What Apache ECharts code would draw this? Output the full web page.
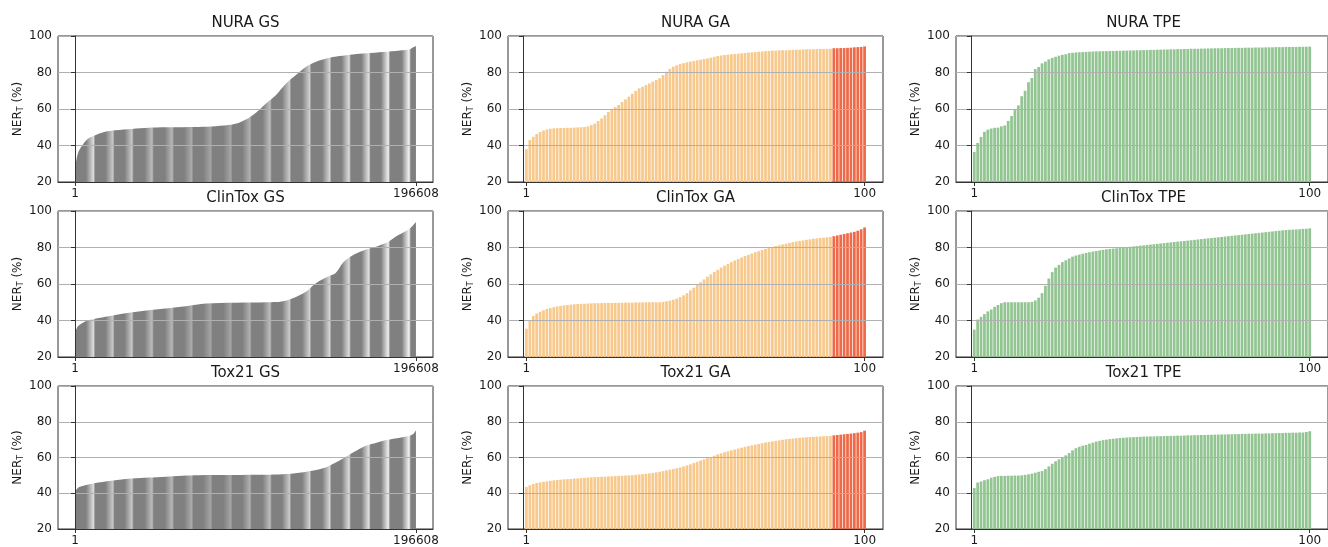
<!DOCTYPE html>
<html><head><meta charset="utf-8">
<script src="https://cdn.jsdelivr.net/npm/echarts@6/dist/echarts.min.js"></script>
<style>html,body{margin:0;padding:0;background:#fff}#c{width:1328px;height:547px}</style>
</head><body><div id="c"></div>
<script>
// ---------------- data ----------------
const datasets = ['NURA', 'ClinTox', 'Tox21'];
const methods = ['GS', 'GA', 'TPE'];
const gsTotal = 196608;   // number of grid-search configurations
const nTrials = 100;      // GA / TPE trials
const topN = 10;          // highlighted best GA trials
const yTicks = [20, 40, 60, 80, 100];

// Grid search: sorted NER_T curve read at sample ranks
const nuraGsIdx = [1, 394, 1928, 4837, 7669, 11601, 17302, 23200, 32834, 42468, 52102, 71370, 81199, 90833, 94569, 98501, 102433, 106169, 110101, 115803, 121701, 127403, 133300, 139002, 144900, 152568, 160236, 168100, 177734, 187368, 193070, 195035, 196608];
const nuraGsVal = [24, 30, 36.5, 41, 43.8, 45.6, 47.5, 48.4, 49.1, 49.7, 50.0, 50.2, 50.6, 51.5, 52.4, 54.2, 56.6, 59.4, 63, 67.6, 74, 78.6, 83.2, 85.9, 87.7, 89, 89.9, 90.5, 91.2, 92, 92.7, 93.8, 94.5];

const clintoxGsIdx = [1, 600, 1800, 5800, 9700, 17500, 29100, 46500, 63900, 75500, 110300, 116100, 121900, 127700, 133500, 137600, 141600, 145700, 150300, 154900, 160700, 168200, 175200, 180500, 185100, 190900, 194300, 196608];
const clintoxGsVal = [33, 35, 37, 39.5, 40.5, 42, 44, 46, 47.8, 49.3, 50.0, 50.1, 51, 53, 56, 59.5, 62, 64, 66, 72, 76, 79, 81, 83, 86, 89, 91.5, 94];

const tox21GsIdx = [1, 1928, 5801, 13527, 23200, 32834, 42468, 52102, 61736, 71370, 90833, 110101, 119735, 129369, 139002, 144900, 150602, 156500, 162202, 168100, 173801, 179700, 187368, 193070, 195035, 196608];
const tox21GsVal = [41.0, 43.2, 44.5, 46.0, 47.3, 48.2, 48.8, 49.3, 49.8, 50.1, 50.2, 50.3, 50.6, 51.5, 53.0, 54.6, 57.3, 60.6, 63.8, 66.7, 68.3, 69.8, 71.1, 72.2, 73.1, 75.3];

// GA trials (sorted ascending)
const nuraGa = [38.0, 43.0, 44.8, 46.3, 47.4, 48.2, 48.8, 49.2, 49.4, 49.5, 49.6, 49.6, 49.7, 49.7, 49.8, 49.9, 50.0, 50.1, 50.5, 51.2,
  52.0, 53.4, 54.8, 56.6, 58.4, 59.8, 61.0, 62.2, 63.8, 65.3, 66.8, 68.4, 69.9, 71.3, 72.2, 73.1, 74.0, 75.0, 75.9, 76.8,
  78.6, 80.4, 82.0, 83.2, 84.0, 84.6, 85.1, 85.6, 86.0, 86.3, 86.7, 87.0, 87.4, 87.7, 88.1, 88.6, 89.0, 89.3, 89.6, 89.8,
  90.0, 90.1, 90.3, 90.5, 90.7, 90.9, 91.0, 91.2, 91.4, 91.5, 91.7, 91.8, 92.0, 92.0, 92.1, 92.2, 92.2, 92.3, 92.4, 92.5,
  92.5, 92.6, 92.7, 92.7, 92.8, 92.8, 92.9, 92.9, 93.0, 93.0, 93.3, 93.3, 93.4, 93.4, 93.5, 93.6, 93.8, 93.9, 94.0, 94.3];
const clintoxGa = [35.5, 40.0, 42.5, 43.8, 44.8, 45.6, 46.3, 46.8, 47.3, 47.7, 48.0, 48.3, 48.5, 48.7, 48.9, 49.0, 49.1, 49.2, 49.3, 49.4,
  49.5, 49.5, 49.5, 49.6, 49.6, 49.6, 49.7, 49.7, 49.7, 49.8, 49.8, 49.8, 49.9, 49.9, 49.9, 50.0, 50.0, 50.0, 50.0, 50.0,
  50.2, 50.5, 50.9, 51.4, 52.0, 52.8, 53.8, 55.0, 56.5, 58.0, 59.5, 61.0, 62.5, 64.0, 65.3, 66.6, 67.8, 69.0, 70.0, 71.0,
  72.0, 72.9, 73.7, 74.5, 75.3, 76.0, 76.7, 77.4, 78.0, 78.6, 79.2, 79.8, 80.3, 80.8, 81.3, 81.7, 82.1, 82.5, 82.9, 83.3,
  83.6, 83.9, 84.2, 84.5, 84.8, 85.0, 85.2, 85.4, 85.6, 85.8, 86.2, 86.6, 87.0, 87.4, 87.8, 88.2, 88.6, 89.2, 90.0, 91.0];
const tox21Ga = [43.5, 44.5, 45.2, 45.7, 46.1, 46.4, 46.7, 47.0, 47.2, 47.4, 47.6, 47.8, 47.9, 48.0, 48.2, 48.3, 48.5, 48.6, 48.8, 48.9,
  49.0, 49.1, 49.2, 49.3, 49.4, 49.5, 49.6, 49.7, 49.8, 49.9, 50.0, 50.1, 50.3, 50.5, 50.7, 50.9, 51.1, 51.4, 51.7, 52.0,
  52.4, 52.8, 53.2, 53.6, 54.0, 54.5, 55.0, 55.6, 56.2, 56.9, 57.6, 58.3, 59.0, 59.7, 60.3, 61.0, 61.7, 62.3, 62.9, 63.5,
  64.0, 64.5, 65.0, 65.5, 66.0, 66.4, 66.8, 67.2, 67.6, 68.0, 68.4, 68.7, 69.0, 69.3, 69.6, 69.9, 70.2, 70.4, 70.6, 70.8,
  71.0, 71.2, 71.3, 71.5, 71.6, 71.7, 71.8, 71.9, 72.0, 72.1, 72.4, 72.6, 72.8, 73.0, 73.2, 73.4, 73.6, 73.9, 74.2, 75.0];

// TPE trials (sorted ascending)
const nuraTpe = [36.5, 41.4, 44.7, 47.5, 48.7, 49.3, 49.7, 49.8, 50.5, 51.0, 53.5, 56.2, 59.4, 62.0, 67.0, 70.0, 74.7, 77.0, 81.9, 83.0,
  85.0, 86.0, 87.2, 88.0, 88.6, 89.2, 89.7, 90.0, 90.6, 90.8, 91.0, 91.1, 91.2, 91.3, 91.4, 91.5, 91.6, 91.6, 91.7, 91.7,
  91.8, 91.8, 91.9, 91.9, 92.0, 92.0, 92.1, 92.1, 92.2, 92.2, 92.3, 92.3, 92.4, 92.4, 92.5, 92.5, 92.6, 92.6, 92.7, 92.7,
  92.8, 92.8, 92.9, 92.9, 93.0, 93.0, 93.0, 93.1, 93.1, 93.2, 93.2, 93.3, 93.3, 93.3, 93.4, 93.4, 93.4, 93.5, 93.5, 93.5,
  93.6, 93.6, 93.6, 93.7, 93.7, 93.7, 93.8, 93.8, 93.8, 93.9, 93.9, 93.9, 94.0, 94.0, 94.0, 94.0, 94.1, 94.1, 94.1, 94.2];
const clintoxTpe = [35.0, 40.5, 42.0, 43.5, 45.0, 46.0, 47.5, 48.5, 49.5, 50.0, 50.0, 50.0, 50.0, 50.0, 50.0, 50.0, 50.0, 50.2, 51.0, 52.5,
  55.0, 59.0, 63.0, 66.5, 69.0, 70.5, 72.0, 73.0, 74.0, 75.0, 75.6, 76.1, 76.6, 77.0, 77.4, 77.8, 78.1, 78.4, 78.7, 79.0,
  79.2, 79.4, 79.6, 79.8, 80.0, 80.2, 80.4, 80.6, 80.8, 81.0, 81.2, 81.4, 81.6, 81.8, 82.0, 82.2, 82.4, 82.6, 82.8, 83.0,
  83.2, 83.4, 83.6, 83.8, 84.0, 84.2, 84.4, 84.6, 84.8, 85.0, 85.2, 85.4, 85.6, 85.8, 86.0, 86.2, 86.4, 86.6, 86.8, 87.0,
  87.2, 87.4, 87.6, 87.8, 88.0, 88.2, 88.4, 88.6, 88.8, 89.0, 89.2, 89.4, 89.6, 89.7, 89.8, 89.9, 90.0, 90.2, 90.3, 90.5];
const tox21Tpe = [42.9, 46.0, 46.6, 47.3, 47.8, 48.7, 49.2, 49.6, 49.7, 49.7, 49.8, 49.8, 49.9, 49.9, 50.0, 50.3, 50.6, 51.0, 51.5, 52.0,
  52.4, 53.5, 55.0, 56.5, 57.9, 59.0, 60.0, 61.2, 62.5, 64.0, 65.2, 66.0, 66.6, 67.0, 67.7, 68.3, 68.9, 69.3, 69.7, 70.0,
  70.3, 70.5, 70.7, 70.9, 71.0, 71.2, 71.3, 71.4, 71.5, 71.6, 71.7, 71.7, 71.8, 71.8, 71.9, 71.9, 72.0, 72.0, 72.1, 72.1,
  72.2, 72.2, 72.3, 72.4, 72.4, 72.5, 72.5, 72.6, 72.6, 72.7, 72.7, 72.8, 72.8, 72.9, 72.9, 73.0, 73.0, 73.1, 73.1, 73.2,
  73.2, 73.3, 73.3, 73.4, 73.4, 73.4, 73.5, 73.5, 73.6, 73.6, 73.7, 73.7, 73.8, 73.8, 73.9, 73.9, 74.0, 74.0, 74.3, 74.7];

const gsIdx = [nuraGsIdx, clintoxGsIdx, tox21GsIdx];
const gsVal = [nuraGsVal, clintoxGsVal, tox21GsVal];
const gaVal = [nuraGa, clintoxGa, tox21Ga];
const tpeVal = [nuraTpe, clintoxTpe, tox21Tpe];

// ---------------- style ----------------
const FONT = 'DejaVu Sans';
const colLeft = [58, 508, 956];
const colWidth = [375, 375, 376];
const rowTop = [36, 211, 386];
const rowHeight = 146;
const GREY = '#808080', ORANGE = '#f8c98d', RED = '#ee6a48', GREEN = '#93c593';
const FRAME = '#333333', GRIDC = '#b0b0b0', TXT = '#1a1a1a';

// moire stripe appearance of the dense grid-search bars (style only)
const stripePos = [0.054, 0.111, 0.167, 0.226, 0.285, 0.342, 0.398, 0.457, 0.513, 0.572, 0.629, 0.688, 0.747, 0.804, 0.862, 0.919, 0.980];
const stripeLevel = [0.75, 0.6, 0.6, 0.5, 0.45, 0.35, 0.3, 0.3, 0.4, 0.5, 0.6, 0.65, 0.7, 0.75, 0.8, 0.9, 0.95];
function stripeGradient() {
  const stops = [{offset: 0, color: GREY}];
  stripePos.forEach((c, i) => {
    const g = Math.round(128 + (250 - 128) * stripeLevel[i]);
    const light = 'rgb(' + g + ',' + g + ',' + g + ')';
    stops.push({offset: c - 0.022, color: GREY});
    stops.push({offset: c, color: light});
    stops.push({offset: c + 0.005, color: GREY});
  });
  stops.push({offset: 1, color: GREY});
  return new echarts.graphic.LinearGradient(0, 0, 1, 0, stops);
}

const option = {
  animation: false,
  backgroundColor: '#fff',
  title: [], grid: [], xAxis: [], yAxis: [], series: []
};

datasets.forEach((ds, r) => {
  methods.forEach((m, c) => {
    const k = option.grid.length;
    const left = colLeft[c], top = rowTop[r], w = colWidth[c];
    option.grid.push({left: left, top: top, width: w, height: rowHeight,
      show: true, borderColor: FRAME, borderWidth: 1, backgroundColor: 'transparent', containLabel: false});
    option.title.push({text: ds + ' ' + m, left: left + 187.5, top: top - 20, padding: 0,
      textAlign: 'center', textStyle: {fontFamily: FONT, fontSize: 15, fontWeight: 'normal', color: TXT}});
    const isGS = m === 'GS';
    const xmax = isGS ? gsTotal : nTrials;
    const lo = isGS ? 1 : 0.6, hi = isGS ? xmax : xmax + 0.4;
    const pad = (hi - lo) * 0.05;
    option.xAxis.push({type: 'value', gridIndex: k, min: lo - pad, max: hi + pad, z: 10,
      splitLine: {show: false},
      axisLine: {show: true, onZero: false, lineStyle: {color: FRAME, width: 1}},
      axisTick: {show: true, length: 4, customValues: [1, xmax], lineStyle: {color: FRAME}},
      axisLabel: {customValues: [1, xmax], formatter: v => String(Math.round(v)), margin: 6,
        fontFamily: FONT, fontSize: 12, color: TXT}});
    option.yAxis.push({type: 'value', gridIndex: k, min: yTicks[0], max: yTicks[yTicks.length - 1], interval: 20, z: 10,
      name: 'NER{s|T} (%)', nameLocation: 'middle', nameGap: 32,
      nameTextStyle: {fontFamily: FONT, fontSize: 12, color: TXT, lineHeight: 14,
        rich: {s: {fontFamily: FONT, fontSize: 8, lineHeight: 8, verticalAlign: 'bottom', color: TXT}}},
      splitLine: {show: true, lineStyle: {color: GRIDC, width: 1}},
      axisLine: {show: true, lineStyle: {color: FRAME, width: 1}},
      axisTick: {show: true, length: 4, lineStyle: {color: FRAME}},
      axisLabel: {margin: 6, fontFamily: FONT, fontSize: 12, color: TXT}});
    if (isGS) {
      const idx = gsIdx[r], val = gsVal[r];
      option.series.push({type: 'line', xAxisIndex: k, yAxisIndex: k, smooth: 0.3,
        showSymbol: false, silent: true, clip: true,
        data: idx.map((x, i) => [x, val[i]]),
        lineStyle: {width: 0},
        areaStyle: {origin: 'start', opacity: 1, color: stripeGradient()}});
    } else {
      const vals = m === 'GA' ? gaVal[r] : tpeVal[r];
      const bw = 0.8 * w / ((hi - lo) * 1.1);
      option.series.push({type: 'bar', xAxisIndex: k, yAxisIndex: k, barWidth: bw, silent: true,
        data: vals.map((v, i) => ({value: [i + 1, v],
          itemStyle: {color: m === 'TPE' ? GREEN : (i >= vals.length - topN ? RED : ORANGE)}}))});
    }
  });
});

const chart = echarts.init(document.getElementById('c'), null, {renderer: 'canvas'});
chart.setOption(option);
</script></body></html>
